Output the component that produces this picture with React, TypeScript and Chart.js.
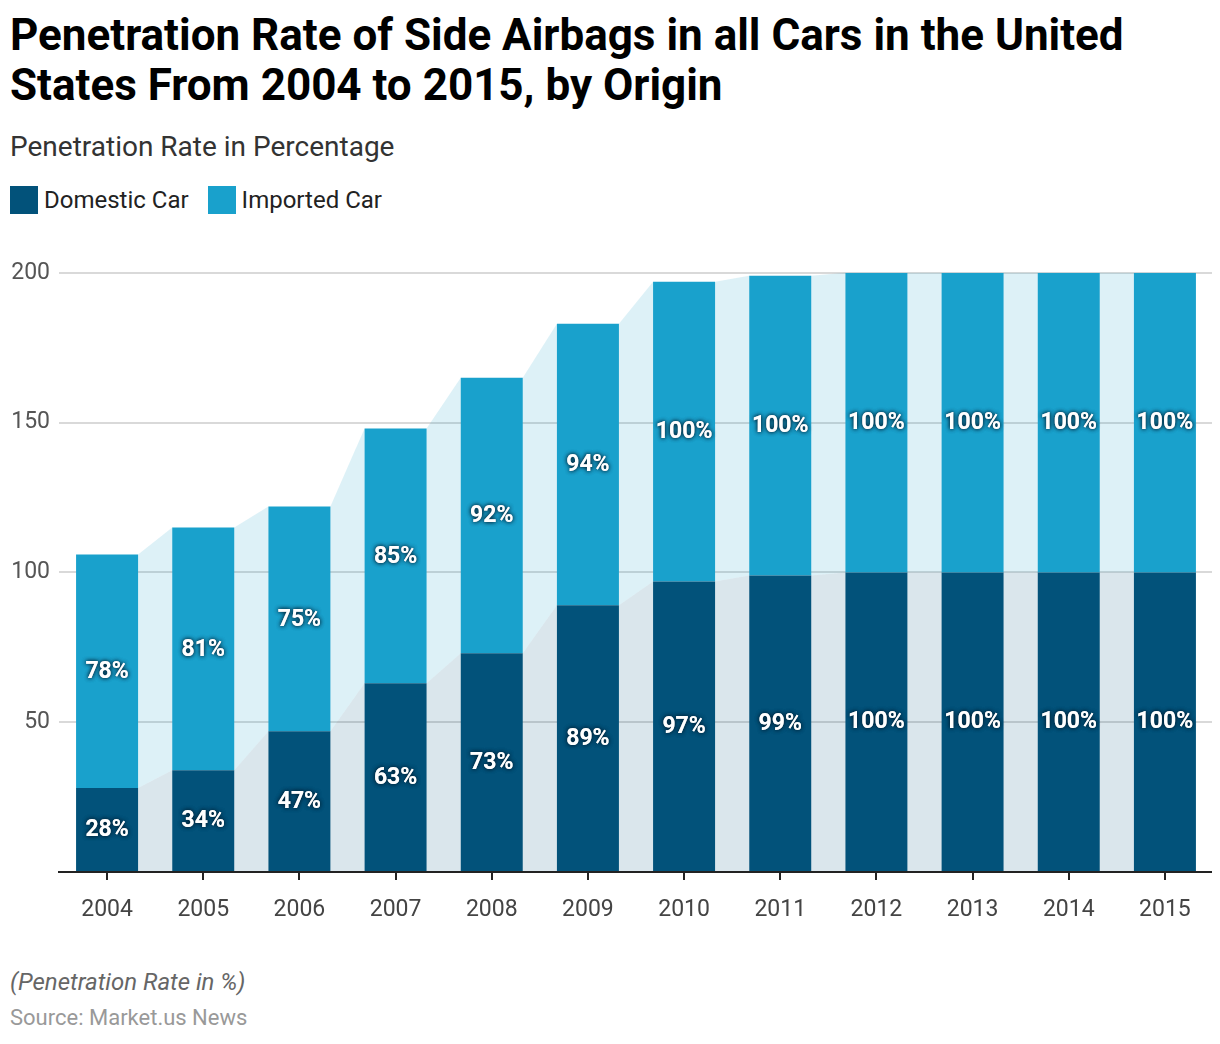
import React, { useEffect, useRef } from "react";
import { Chart, registerables } from "chart.js";

Chart.register(...registerables);

const years = ["2004", "2005", "2006", "2007", "2008", "2009", "2010", "2011", "2012", "2013", "2014", "2015"];
const domestic = [28, 34, 47, 63, 73, 89, 97, 99, 100, 100, 100, 100];
const imported = [78, 81, 75, 85, 92, 94, 100, 100, 100, 100, 100, 100];
const yTicks = [0, 50, 100, 150, 200];

const DOMESTIC_COLOR = "#02527a";
const IMPORTED_COLOR = "#19a1cc";
const DOMESTIC_AREA = "rgba(2,82,122,0.145)";
const IMPORTED_AREA = "rgba(25,161,204,0.15)";
const FONT = "Roboto, 'Noto Sans', sans-serif";

const areaPlugin = {
  id: "connectAreas",
  beforeDatasetsDraw(chart: any) {
    const ctx = chart.ctx;
    const colors = [DOMESTIC_AREA, IMPORTED_AREA];
    chart.data.datasets.forEach((_ds: any, di: number) => {
      const meta = chart.getDatasetMeta(di);
      ctx.save();
      ctx.fillStyle = colors[di];
      for (let i = 0; i < meta.data.length - 1; i++) {
        const a = meta.data[i];
        const b = meta.data[i + 1];
        const ax = a.x + a.width / 2;
        const bx = b.x - b.width / 2;
        ctx.beginPath();
        ctx.moveTo(ax, a.y);
        ctx.lineTo(bx, b.y);
        ctx.lineTo(bx, b.base);
        ctx.lineTo(ax, a.base);
        ctx.closePath();
        ctx.fill();
      }
      ctx.restore();
    });
  },
};

const labelPlugin = {
  id: "segLabels",
  afterDatasetsDraw(chart: any) {
    const ctx = chart.ctx;
    chart.data.datasets.forEach((ds: any, di: number) => {
      const meta = chart.getDatasetMeta(di);
      meta.data.forEach((el: any, i: number) => {
        const v = ds.data[i];
        const cy = (el.y + el.base) / 2;
        ctx.save();
        ctx.font = `700 23px ${FONT}`;
        ctx.textAlign = "center";
        ctx.textBaseline = "middle";
        ctx.shadowColor = "rgba(0,30,50,0.85)";
        ctx.shadowBlur = 4;
        ctx.fillStyle = "#ffffff";
        ctx.fillText(`${v}%`, el.x, cy + 1);
        ctx.fillText(`${v}%`, el.x, cy + 1);
        ctx.restore();
      });
    });
  },
};

function BarChart() {
  const ref = useRef<HTMLCanvasElement | null>(null);
  useEffect(() => {
    if (!ref.current) return;
    const chart = new Chart(ref.current, {
      type: "bar",
      data: {
        labels: years,
        datasets: [
          { label: "Domestic Car", data: domestic, backgroundColor: DOMESTIC_COLOR, stack: "s" },
          { label: "Imported Car", data: imported, backgroundColor: IMPORTED_COLOR, stack: "s" },
        ],
      },
      options: {
        animation: false,
        responsive: false,
        maintainAspectRatio: false,
        layout: { padding: { top: 22, right: 7, left: 0, bottom: 0 } },
        datasets: { bar: { barPercentage: 1, categoryPercentage: 0.645 } },
        plugins: { legend: { display: false }, tooltip: { enabled: false } },
        scales: {
          x: {
            stacked: true,
            border: { display: true, color: "#222", width: 2 },
            grid: { drawOnChartArea: false, drawTicks: true, tickLength: 8, color: "#222", lineWidth: 2, offset: false },
            ticks: { color: "#444", font: { family: FONT, size: 23 }, padding: 16 },
            afterFit(scale: any) { scale.height = 78; },
          },
          y: {
            stacked: true,
            min: 0,
            max: 200,
            afterBuildTicks(scale: any) { scale.ticks = yTicks.map((v) => ({ value: v })); },
            border: { display: false },
            grid: { color: "#d9d9d9", lineWidth: 2, drawTicks: false },
            ticks: {
              color: "#555",
              font: { family: FONT, size: 23 },
              padding: 9,
              callback: (v: any) => (v === 0 ? "" : String(v)),
            },
            afterFit(scale: any) { scale.width = 59; },
          },
        },
      },
      plugins: [areaPlugin, labelPlugin],
    } as any);
    return () => chart.destroy();
  }, []);
  return <canvas ref={ref} width={1220} height={700} style={{ position: "absolute", left: 0, top: 250 }} />;
}

export default function App() {
  return (
    <div style={{ position: "relative", width: 1220, height: 1044, margin: -8, background: "#fff", fontFamily: FONT, overflow: "hidden" }}>
      <div style={{ position: "absolute", left: 10, top: 10, fontSize: 44, fontWeight: 700, lineHeight: "50px", color: "#000", width: 1210 }}>
        Penetration Rate of Side Airbags in all Cars in the United<br />States From 2004 to 2015, by Origin
      </div>
      <div style={{ position: "absolute", left: 10, top: 130, fontSize: 28, color: "#333", lineHeight: "34px" }}>
        Penetration Rate in Percentage
      </div>
      <div style={{ position: "absolute", left: 10, top: 186, display: "flex", alignItems: "center", fontSize: 24, color: "#222", lineHeight: "28px" }}>
        <span style={{ width: 28, height: 28, background: DOMESTIC_COLOR, display: "inline-block", marginRight: 6 }} />
        <span style={{ marginRight: 19 }}>Domestic Car</span>
        <span style={{ width: 28, height: 28, background: IMPORTED_COLOR, display: "inline-block", marginRight: 6 }} />
        <span>Imported Car</span>
      </div>
      <BarChart />
      <div style={{ position: "absolute", left: 10, top: 966, fontSize: 24, fontStyle: "italic", color: "#666", lineHeight: "32px" }}>
        (Penetration Rate in %)
      </div>
      <div style={{ position: "absolute", left: 10, top: 1004, fontSize: 22, color: "#999", lineHeight: "28px" }}>
        Source: Market.us News
      </div>
    </div>
  );
}
